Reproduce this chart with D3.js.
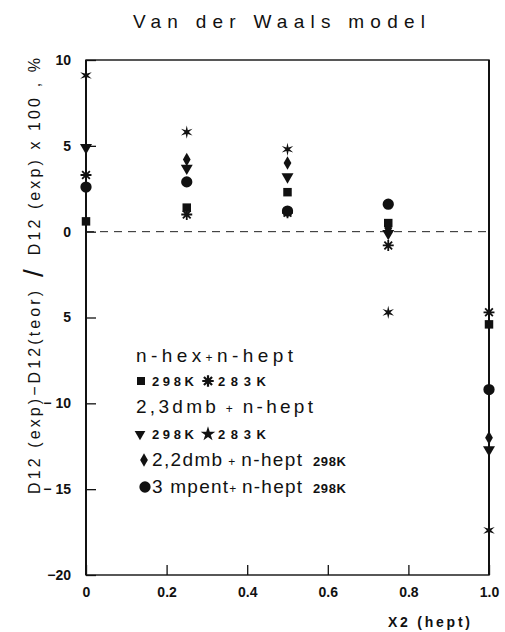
<!DOCTYPE html>
<html><head><meta charset="utf-8">
<script src="https://cdn.jsdelivr.net/npm/d3@7"></script>
<style>body{margin:0;background:#fff}text{font-family:"Liberation Sans",Arial,Helvetica,sans-serif;fill:#111}</style>
</head><body>
<svg id="c" width="505" height="632"></svg>
<script>
// ---- data ----
const xValues   = [0, 0.25, 0.5, 0.75, 1.0];
const hex298    = [0.6, 1.4, 2.3, 0.5, -5.4];    // square
const hex283    = [3.3, 1.0, 1.1, -0.8, -4.7];   // asterisk
const dmb23_298 = [4.9, 3.7, 3.2, -0.1, -12.7];  // triangle down
const dmb23_283 = [9.1, 5.8, 4.8, -4.7, -17.4];  // star
const dmb22_298 = [null, 4.2, 4.0, 0.2, -12.0];  // diamond
const mpent298  = [2.6, 2.9, 1.2, 1.6, -9.2];    // circle
const xTicks = [0, 0.2, 0.4, 0.6, 0.8, 1.0];
const xTickLabels = ["0", "0.2", "0.4", "0.6", "0.8", "1.0"];
const yTicks = [-20, -15, -10, -5, 0, 5, 10];
const yTickLabels = ["\u221220", "\u2212 15", "\u2212 10", "5", "0", "5", "10"];

const svg = d3.select("#c");
const x = d3.scaleLinear([0, 1], [86, 489]);
const y = d3.scaleLinear([-20, 10], [575, 60]);

// custom symbols
const star6 = {draw(ctx, size){ const R = Math.sqrt(size), r = R*0.32;
  for (let i=0;i<12;i++){ const a = -Math.PI/2 + i*Math.PI/6, rr = i%2?r:R;
    const px = rr*Math.cos(a), py = rr*Math.sin(a); i?ctx.lineTo(px,py):ctx.moveTo(px,py);} ctx.closePath(); }};
const asterisk = {draw(ctx, size){ const R = Math.sqrt(size);
  for (let i=0;i<4;i++){ const a = i*Math.PI/4; ctx.moveTo(R*Math.cos(a),R*Math.sin(a)); ctx.lineTo(-R*Math.cos(a),-R*Math.sin(a)); } }};

const series = [
  {vals: hex298, type: d3.symbolSquare, size: 72, rot: 0, stroke: false},
  {vals: hex283, type: asterisk, size: 30, rot: 0, stroke: true},
  {vals: dmb23_298, type: d3.symbolTriangle, size: 62, rot: 180, stroke: false},
  {vals: dmb23_283, type: star6, size: 44, rot: 0, stroke: false},
  {vals: dmb22_298, type: d3.symbolDiamond, size: 52, rot: 0, stroke: false},
  {vals: mpent298, type: d3.symbolCircle, size: 100, rot: 0, stroke: false}
];

// zero dashed line
svg.append("line").attr("x1", x(0)).attr("x2", x(1)).attr("y1", y(0)).attr("y2", y(0))
  .attr("stroke", "#222").attr("stroke-width", 1).attr("stroke-dasharray", "8,6");

// frame
svg.append("rect").attr("x", x(0)).attr("y", y(10)).attr("width", x(1)-x(0)).attr("height", y(-20)-y(10))
  .attr("fill", "none").attr("stroke", "#111").attr("stroke-width", 1.4);
svg.append("line").attr("x1", x(0)).attr("x2", x(0)).attr("y1", y(10)).attr("y2", y(-20)).attr("stroke","#111").attr("stroke-width",2);
svg.append("line").attr("x1", x(1)).attr("x2", x(1)).attr("y1", y(10)).attr("y2", y(-20)).attr("stroke","#111").attr("stroke-width",2);

// axes
const ya = svg.append("g").attr("transform", `translate(${x(0)},0)`)
  .call(d3.axisLeft(y).tickValues(yTicks).tickSize(-10).tickPadding(15)
    .tickFormat((d,i) => yTickLabels[i]));
ya.select(".domain").remove();
ya.selectAll("line").attr("stroke", "#111").attr("stroke-width", 1.3);
ya.selectAll("text").attr("font-size", 14).attr("font-weight", "bold").style("font-family", "Liberation Sans, Arial, sans-serif");

const xa = svg.append("g").attr("transform", `translate(0,${y(-20)})`)
  .call(d3.axisBottom(x).tickValues(xTicks).tickSize(-10).tickPadding(12)
    .tickFormat((d,i) => xTickLabels[i]));
xa.select(".domain").remove();
xa.selectAll("line").attr("stroke", "#111").attr("stroke-width", 1.3);
xa.selectAll("text").attr("font-size", 14).attr("font-weight", "bold").style("font-family", "Liberation Sans, Arial, sans-serif");

// marks
series.forEach(s => {
  const pts = xValues.map((xv,i) => ({x: xv, v: s.vals[i]})).filter(d => d.v !== null);
  svg.append("g").selectAll("path").data(pts).join("path")
    .attr("d", d3.symbol(s.type, s.size))
    .attr("transform", d => `translate(${x(d.x)},${y(d.v)}) rotate(${s.rot})`)
    .attr("fill", s.stroke ? "none" : "#111")
    .attr("stroke", s.stroke ? "#111" : "none")
    .attr("stroke-width", s.stroke ? 1.8 : 0);
});

// title
svg.append("text").attr("x", 133).attr("y", 28).attr("font-size", 19)
  .attr("textLength", 292).attr("lengthAdjust", "spacing").text("Van der Waals model");

// y label
const yl = svg.append("text").attr("transform", "translate(40,494) rotate(-90)")
  .attr("font-size", 16).attr("textLength", 436).attr("lengthAdjust", "spacing");
yl.append("tspan").text("D12 (exp)\u2212D12(teor)");
yl.append("tspan").attr("font-size", 28).attr("dy", 3).text(" / ");
yl.append("tspan").attr("dy", -3).text("D12 (exp) x 100 , %");

// x label
svg.append("text").attr("x", 388).attr("y", 627).attr("font-size", 14).attr("font-weight", "bold")
  .attr("textLength", 82).attr("lengthAdjust", "spacing").text("X2 (hept)");

// legend
function big(xp, yp, parts, len){
  const t = svg.append("text").attr("x", xp).attr("y", yp).attr("font-size", 19)
    .attr("textLength", len).attr("lengthAdjust", "spacing");
  parts.forEach(p => t.append("tspan").attr("font-size", p[1]).text(p[0]));
}
function small(xp, yp, s, len){
  svg.append("text").attr("x", xp).attr("y", yp).attr("font-size", 13).attr("font-weight", "bold")
    .attr("textLength", len).attr("lengthAdjust", "spacing").text(s);
}
function sym(s, xp, yp, scale, typeOverride){
  svg.append("path").attr("d", d3.symbol(typeOverride || s.type, s.size*scale))
    .attr("transform", `translate(${xp},${yp}) rotate(${s.rot})`)
    .attr("fill", s.stroke ? "none" : "#111").attr("stroke", s.stroke ? "#111" : "none")
    .attr("stroke-width", s.stroke ? 2.2 : 0);
}
big(136, 362, [["n-hex",19],["+",12],["n-hept",19]], 157);
sym(series[0], 141, 381, 0.9); small(152, 386, "298K", 42);
sym(series[1], 208, 381, 1.1); small(218, 386, "283K", 48);
big(136, 413, [["2,3dmb",19],[" + ",12],["n-hept",19]], 177);
sym(series[2], 140, 434, 0.8); small(152, 439, "298K", 42);
sym(series[3], 208, 434, 1.5, d3.symbolStar); small(218, 439, "283K", 48);
sym(series[4], 144, 460, 1.0);
big(152, 466, [["2,2dmb",19],[" + ",12],["n-hept",19]], 150);
small(313, 466, "298K", 33);
sym(series[5], 145, 487, 1.0);
big(152, 493, [["3 mpent",19],["+ ",12],["n-hept",19]], 150);
small(313, 493, "298K", 33);
</script>
</body></html>
